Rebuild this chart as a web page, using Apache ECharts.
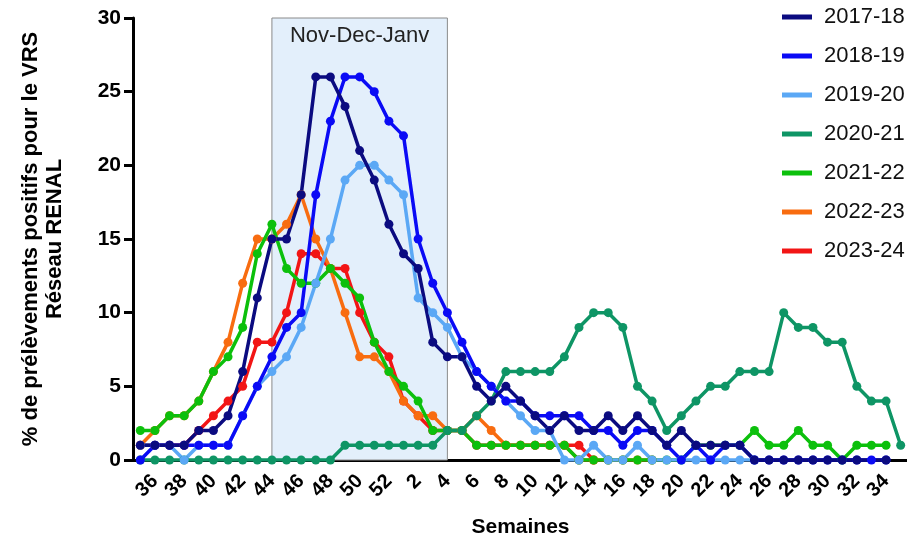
<!DOCTYPE html>
<html>
<head>
<meta charset="utf-8">
<script src="https://cdn.jsdelivr.net/npm/echarts@6/dist/echarts.min.js"></script>
<style>
html,body{margin:0;padding:0;background:#fff;}
#chart{width:907px;height:542px;}
</style>
</head>
<body>
<div id="chart"></div>
<script>
// Weeks (35..52 then 1..35)
const weeks = ['35','36','37','38','39','40','41','42','43','44','45','46','47','48','49','50','51','52',
  '1','2','3','4','5','6','7','8','9','10','11','12','13','14','15','16','17','18','19','20',
  '21','22','23','24','25','26','27','28','29','30','31','32','33','34','35'];

const s2017_18 = [1,1,1,1,2,2,3,6,11,15,15,18,26,26,24,21,19,16,14,13,8,7,7,5,4,5,4,3,2,3,2,2,3,2,3,2,1,2,1,1,1,1,0,0,0,0,0,0,0,0,null,0];
const s2018_19 = [0,1,1,1,1,1,1,3,5,7,9,10,18,23,26,26,25,23,22,15,12,10,8,6,5,4,4,3,3,3,3,2,2,1,2,2,1,0,1,0,1,1,0,0,0,0,0,0,0,0,0,0];
const s2019_20 = [1,1,1,0,1,1,1,3,5,6,7,9,12,15,19,20,20,19,18,11,10,9,7,6,5,4,3,2,2,0,0,1,0,0,1,0,0,0,0,0,0,0,0];
const s2020_21 = [0,0,0,0,0,0,0,0,0,0,0,0,0,0,1,1,1,1,1,1,1,2,2,3,4,6,6,6,6,7,9,10,10,9,5,4,2,3,4,5,5,6,6,6,10,9,9,8,8,5,4,4,1];
const s2021_22 = [2,2,3,3,4,6,7,9,14,16,13,12,12,13,12,11,8,6,5,4,2,2,2,1,1,1,1,1,1,1,0,0,0,0,0,0,0,0,1,1,1,1,2,1,1,2,1,1,0,1,1,1];
const s2022_23 = [1,2,3,3,4,6,8,12,15,15,16,18,15,13,10,7,7,6,4,3,3,2,2,3,2,1,1,1,1,1,0,0,0,0,0,0];
const s2023_24 = [1,1,1,1,2,3,4,5,8,8,10,14,14,13,13,10,8,7,4,3,2,2,2,1,1,1,1,1,1,1,1,0];

const seasons = ['2017-18','2018-19','2019-20','2020-21','2021-22','2022-23','2023-24'];
const colors = ['#0b0b80','#0a0af5','#5ba8f5','#0e9565','#0cc00c','#f86c10','#f21515'];
const seriesData = [s2017_18,s2018_19,s2019_20,s2020_21,s2021_22,s2022_23,s2023_24];

const FONT = 'Arial, "Liberation Sans", Helvetica, sans-serif';

const series = [{
  type: 'line',
  name: '__area',
  data: [],
  clip: false,
  silent: true,
  markArea: {
    silent: true,
    itemStyle: { color: '#e3effb', borderColor: '#8a8a8a', borderWidth: 1 },
    label: { show: true, position: 'insideTop', distance: 7, color: '#222', fontSize: 22, fontFamily: FONT },
    data: [[{ xAxis: '44', yAxis: 0, name: 'Nov-Dec-Janv' }, { xAxis: '4', yAxis: 30.27 }]]
  }
}];
for (let k = seasons.length - 1; k >= 0; k--) {
  series.push({
    type: 'line',
    name: seasons[k],
    data: seriesData[k],
    color: colors[k],
    symbol: 'circle',
    symbolSize: 9,
    showSymbol: true,
    showAllSymbol: true,
    connectNulls: true,
    lineStyle: { width: 3.5, color: colors[k] },
    itemStyle: { color: colors[k] },
    emphasis: { disabled: true }
  });
}

const chart = echarts.init(document.getElementById('chart'), null, { renderer: 'canvas' });
chart.setOption({
  animation: false,
  backgroundColor: '#fff',
  grid: { left: 133, right: -1, top: 18, bottom: 82, containLabel: false, outerBoundsMode: 'none' },
  legend: {
    orient: 'vertical',
    left: 777,
    top: 0,
    itemWidth: 30,
    itemHeight: 5,
    itemGap: 15,
    icon: 'rect',
    data: seasons,
    textStyle: { fontSize: 22, fontFamily: FONT, color: '#111', padding: [0, 0, 0, 7], lineHeight: 24 }
  },
  xAxis: {
    type: 'category',
    data: weeks,
    boundaryGap: true,
    name: 'Semaines',
    nameLocation: 'middle',
    nameGap: 57,
    nameTextStyle: { fontSize: 21, fontWeight: 'bold', fontFamily: FONT, color: '#000' },
    axisLine: { lineStyle: { color: '#000', width: 3 } },
    axisTick: { alignWithLabel: true, length: 10, lineStyle: { width: 3, color: '#000' }, interval: (i) => i % 2 === 1 },
    axisLabel: { interval: (i) => i % 2 === 1, rotate: 45, margin: 18, fontSize: 20, fontWeight: 'bold', fontFamily: FONT, color: '#000' },
    splitLine: { show: false }
  },
  yAxis: {
    type: 'value',
    min: 0,
    max: 30,
    interval: 5,
    name: '% de prélèvements positifs pour le VRS\nRéseau RENAL',
    nameLocation: 'middle',
    nameGap: 66,
    nameTextStyle: { fontSize: 22, fontWeight: 'bold', fontFamily: FONT, color: '#000', lineHeight: 24 },
    axisLine: { show: true, lineStyle: { color: '#000', width: 3 } },
    axisTick: { show: true, length: 9, lineStyle: { width: 3, color: '#000' } },
    axisLabel: { margin: 12, fontSize: 21, fontWeight: 'bold', fontFamily: FONT, color: '#000' },
    splitLine: { show: false }
  },
  series: series
});
</script>
</body>
</html>
